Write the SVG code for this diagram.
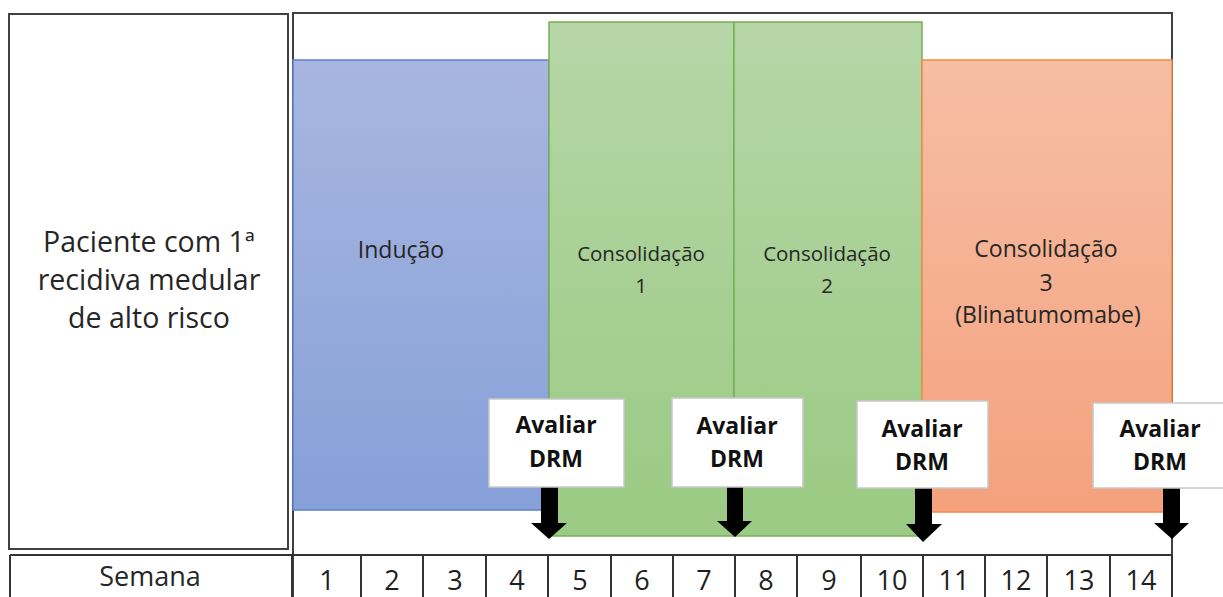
<svg xmlns="http://www.w3.org/2000/svg" width="1223" height="597" viewBox="0 0 1223 597">
<defs>
<linearGradient id="gBlue" x1="0" y1="0" x2="0" y2="1"><stop offset="0" stop-color="#A8B6E0"/><stop offset="1" stop-color="#86A0D8"/></linearGradient>
<linearGradient id="gGreen" x1="0" y1="0" x2="0" y2="1"><stop offset="0" stop-color="#B6D6A7"/><stop offset="1" stop-color="#9ACA83"/></linearGradient>
<linearGradient id="gOrange" x1="0" y1="0" x2="0" y2="1"><stop offset="0" stop-color="#F6BEA4"/><stop offset="1" stop-color="#F4A17D"/></linearGradient>
<style>
.frame{fill:none;stroke:#404040;stroke-width:2}
.grid{stroke:#333;stroke-width:2;fill:none}
.txt{font-family:"Open Sans","Liberation Sans",sans-serif;fill:#262626;text-anchor:middle}
.num{font-family:"Open Sans","Liberation Sans",sans-serif;fill:#1f1f1f;text-anchor:middle;font-size:27px}
.box{fill:#fff;stroke:#C8C8C8;stroke-width:1.5}
.bold{font-family:"Open Sans","Liberation Sans",sans-serif;font-weight:700;font-size:23px;fill:#111;text-anchor:middle}
.arrow{fill:#000}
</style>
</defs>
<rect width="1223" height="597" fill="#fff"/>

<g id="patient">
<rect class="frame" x="9" y="14" width="279" height="535"/>
<text class="txt" font-size="28.5" x="149" y="252">Paciente com 1ª</text>
<text class="txt" font-size="28.5" x="149" y="290">recidiva medular</text>
<text class="txt" font-size="28.5" x="149" y="328">de alto risco</text>
</g>

<g id="timeline-frame">
<path class="frame" d="M293,597 V13 H1172 V597"/>
</g>

<g id="inducao">
<rect x="293" y="60" width="256" height="450" fill="url(#gBlue)" stroke="#5D80CF" stroke-width="1.5"/>
<text class="txt" font-size="23" x="401" y="258">Indução</text>
</g>

<g id="consolidacao1">
<rect x="549" y="22" width="185" height="514" fill="url(#gGreen)" stroke="#77B052" stroke-width="1.5"/>
<text class="txt" font-size="20.5" x="641" y="261">Consolidação</text>
<text class="txt" font-size="20.5" x="641" y="293">1</text>
</g>

<g id="consolidacao2">
<rect x="734" y="22" width="188" height="514" fill="url(#gGreen)" stroke="#77B052" stroke-width="1.5"/>
<text class="txt" font-size="20.5" x="827" y="261">Consolidação</text>
<text class="txt" font-size="20.5" x="827" y="293">2</text>
</g>

<g id="consolidacao3">
<rect x="922" y="60" width="250" height="452" fill="url(#gOrange)" stroke="#F08C45" stroke-width="1.5"/>
<text class="txt" font-size="23" x="1046" y="257">Consolidação</text>
<text class="txt" font-size="23" x="1046" y="291">3</text>
<text class="txt" font-size="23" x="1048" y="323">(Blinatumomabe)</text>
</g>

<g id="connectors">
<path class="arrow" d="M541,487 H558 V523 H567 L549,539 L531,523 H541 Z"/>
<path class="arrow" d="M727,487 H743 V521 H752 L735,537 L717,521 H727 Z"/>
<path class="arrow" d="M915,488 H932 V524 H942 L923,542 L906,524 H915 Z"/>
<path class="arrow" d="M1163,488 H1180 V523 H1189 L1172,539 L1154,523 H1163 Z"/>
</g>

<g id="drm1">
<rect class="box" x="489" y="399" width="135" height="88"/>
<text class="bold" x="556" y="433">Avaliar</text>
<text class="bold" x="556" y="467">DRM</text>
</g>
<g id="drm2">
<rect class="box" x="672" y="398" width="131" height="89"/>
<text class="bold" x="737" y="434">Avaliar</text>
<text class="bold" x="737" y="467">DRM</text>
</g>
<g id="drm3">
<rect class="box" x="857" y="401" width="131" height="87"/>
<text class="bold" x="922" y="437">Avaliar</text>
<text class="bold" x="922" y="470">DRM</text>
</g>
<g id="drm4">
<rect class="box" x="1093" y="403" width="135" height="85"/>
<text class="bold" x="1160" y="437">Avaliar</text>
<text class="bold" x="1160" y="470">DRM</text>
</g>

<g id="semana-table">
<path class="grid" d="M10,555 H1172 M10,555 V597 M292,555 V597 M361,555 V597 M423,555 V597 M486,555 V597 M548,555 V597 M611,555 V597 M673,555 V597 M735,555 V597 M797,555 V597 M861,555 V597 M923,555 V597 M985,555 V597 M1047,555 V597 M1110,555 V597 M1172,555 V597"/>
<text class="txt" font-size="27" x="150" y="586">Semana</text>
<text class="num" x="327" y="590">1</text>
<text class="num" x="392" y="590">2</text>
<text class="num" x="455" y="590">3</text>
<text class="num" x="517" y="590">4</text>
<text class="num" x="580" y="590">5</text>
<text class="num" x="642" y="590">6</text>
<text class="num" x="704" y="590">7</text>
<text class="num" x="766" y="590">8</text>
<text class="num" x="829" y="590">9</text>
<text class="num" x="892" y="590">10</text>
<text class="num" x="954" y="590">11</text>
<text class="num" x="1016" y="590">12</text>
<text class="num" x="1079" y="590">13</text>
<text class="num" x="1141" y="590">14</text>
</g>
</svg>
